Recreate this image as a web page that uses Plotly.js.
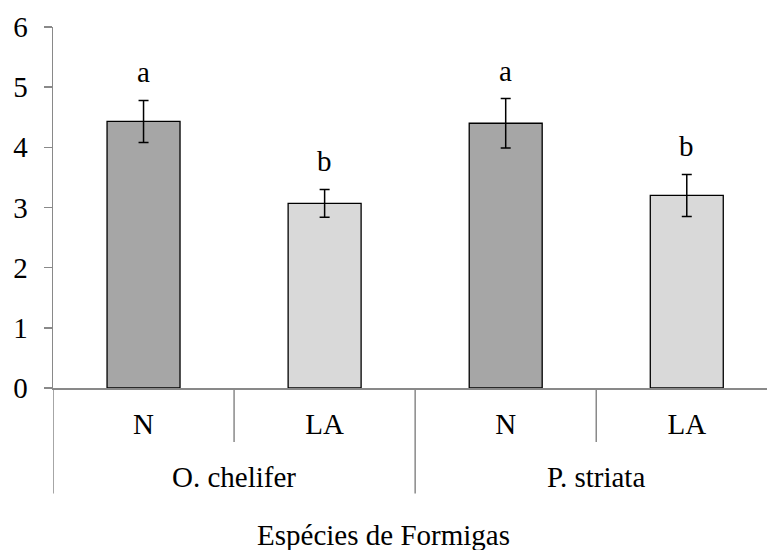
<!DOCTYPE html>
<html>
<head>
<meta charset="utf-8">
<script src="https://cdn.plot.ly/plotly-3.0.1.min.js"></script>
<style>html,body{margin:0;padding:0;overflow:hidden;background:#fff;}#chart{width:767px;height:550px;}</style>
</head>
<body>
<div id="chart"></div>
<script>
// Data
var species = ["O. chelifer", "O. chelifer", "P. striata", "P. striata"];
var treatments = ["N", "LA", "N", "LA"];
var means = [4.43, 3.07, 4.40, 3.20];
var errors = [0.35, 0.23, 0.41, 0.35];
var letters = ["a", "b", "a", "b"];
var barColors = ["#a6a6a6", "#d9d9d9", "#a6a6a6", "#d9d9d9"];
var speciesGroups = ["O. chelifer", "P. striata"];
var xTitle = "Espécies de Formigas";

var idx = treatments.map(function (_, i) { return i; });
var FONT = "Liberation Serif, Times New Roman, serif";
var axisGray = "#898989";

var trace = {
  type: "bar",
  x: idx,
  y: means,
  width: 0.403,
  marker: { color: barColors, line: { color: "#000000", width: 1.3 } },
  error_y: { type: "data", array: errors, visible: true, color: "#000000", thickness: 1.5, width: 5 },
  hoverinfo: "none"
};

var annotations = [];
idx.forEach(function (i) {
  annotations.push({
    x: i, y: means[i] + errors[i], xref: "x", yref: "y",
    text: letters[i], showarrow: false, yanchor: "bottom", yshift: 10,
    font: { family: FONT, size: 29, color: "#000" }
  });
});
speciesGroups.forEach(function (g) {
  var members = idx.filter(function (i) { return species[i] === g; });
  var center = (members[0] + members[members.length - 1]) / 2;
  annotations.push({
    x: center, y: -0.247, xref: "x", yref: "paper",
    text: g, showarrow: false, yanchor: "middle",
    font: { family: FONT, size: 29, color: "#000" }
  });
});

var shapes = [];
for (var k = 0; k < idx.length - 1; k++) {
  var boundary = k + 0.5;
  var outer = species[k] !== species[k + 1];
  shapes.push({
    type: "line", xref: "x", yref: "paper",
    x0: boundary, x1: boundary, y0: 0, y1: outer ? -0.2925 : -0.1496,
    line: { color: axisGray, width: 1.5 }
  });
}
shapes.push({
  type: "line", xref: "x", yref: "paper",
  x0: -0.5, x1: -0.5, y0: 0, y1: -0.2925,
  line: { color: axisGray, width: 1.5 }
});

var layout = {
  width: 767, height: 550,
  margin: { l: 53, r: 0, t: 27, b: 162, pad: 0 },
  paper_bgcolor: "#ffffff", plot_bgcolor: "#ffffff",
  showlegend: false,
  font: { family: FONT, size: 29, color: "#000" },
  title: {
    text: xTitle, xref: "container", x: 0.5, yref: "container", y: 0.028, yanchor: "middle",
    font: { family: FONT, size: 29, color: "#000" }
  },
  xaxis: {
    range: [-0.5, 3.443],
    tickvals: idx, ticktext: treatments,
    ticks: "", showgrid: false, zeroline: false,
    showline: true, linecolor: axisGray, linewidth: 2,
    ticklabelstandoff: 9,
    tickfont: { family: FONT, size: 29, color: "#000" },
    fixedrange: true
  },
  yaxis: {
    range: [0, 6], dtick: 1, tick0: 0,
    ticks: "outside", ticklen: 8, tickwidth: 1.5, tickcolor: axisGray,
    showgrid: false, zeroline: false,
    showline: true, linecolor: axisGray, linewidth: 1.5,
    ticklabelstandoff: 10,
    tickfont: { family: FONT, size: 29, color: "#000" },
    fixedrange: true
  },
  annotations: annotations,
  shapes: shapes
};

Plotly.newPlot("chart", [trace], layout, { staticPlot: true, displayModeBar: false });
</script>
</body>
</html>
